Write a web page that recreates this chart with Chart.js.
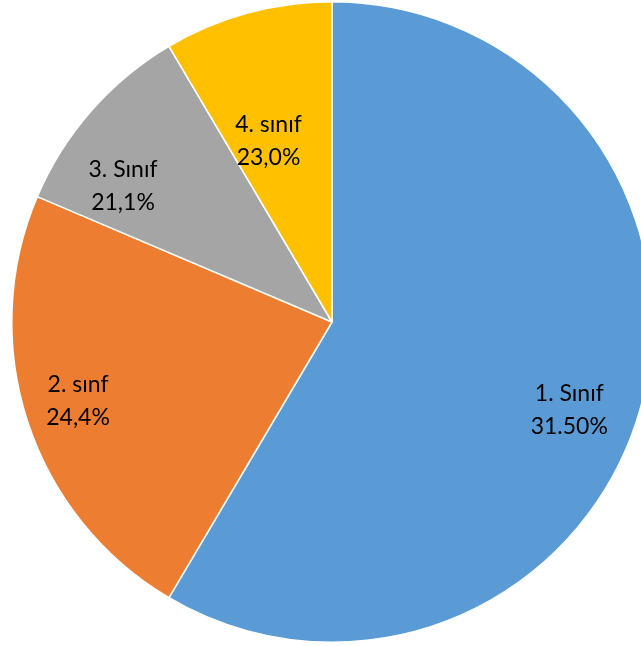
<!DOCTYPE html>
<html>
<head>
<meta charset="utf-8">
<script src="https://cdn.jsdelivr.net/npm/chart.js@4/dist/chart.umd.min.js"></script>
<style>
  html, body { margin: 0; padding: 0; background: #fff; overflow: hidden; }
  #wrap { position: absolute; left: 0; top: 1px; width: 664px; height: 642px; }
</style>
</head>
<body>
<div id="wrap"><canvas id="pie"></canvas></div>
<script>
// slice sizes (share of the circle, %)
const categories = ['1. Sınıf', '2. sınf', '3. Sınıf', '4. sınıf'];
const sliceValues = [58.5, 22.9, 10.1, 8.5];
// percentages printed on the slices (as written in the original)
const printedPercents = ['31.50%', '24,4%', '21,1%', '23,0%'];
const colors = ['#5B9BD5', '#ED7D31', '#A5A5A5', '#FFC000'];

// where each label sits: fraction of radius + small angle nudge (deg)
const labelRadius = [0.79, 0.83, 0.78, 0.60];
const labelNudge = [5, 1, -8, -4];

const sliceLabels = {
  id: 'sliceLabels',
  afterDatasetsDraw(chart) {
    const ctx = chart.ctx;
    const meta = chart.getDatasetMeta(0);
    ctx.save();
    ctx.font = '23px Lato';
    ctx.fillStyle = '#000';
    ctx.textAlign = 'center';
    ctx.textBaseline = 'middle';
    meta.data.forEach((arc, i) => {
      const p = arc.getProps(['x', 'y', 'startAngle', 'endAngle', 'outerRadius'], true);
      const mid = (p.startAngle + p.endAngle) / 2 + labelNudge[i] * Math.PI / 180;
      const r = p.outerRadius * labelRadius[i];
      const x = p.x + Math.cos(mid) * r;
      const y = p.y + Math.sin(mid) * r;
      ctx.fillText(categories[i], x, y - 16);
      ctx.fillText(printedPercents[i], x, y + 17);
    });
    ctx.restore();
  }
};

new Chart(document.getElementById('pie').getContext('2d'), {
  type: 'pie',
  data: {
    labels: categories,
    datasets: [{
      data: sliceValues,
      backgroundColor: colors,
      borderColor: '#fff',
      borderWidth: 1.5
    }]
  },
  options: {
    responsive: true,
    maintainAspectRatio: false,
    animation: false,
    layout: { padding: 0 },
    plugins: {
      legend: { display: false },
      tooltip: { enabled: false }
    }
  },
  plugins: [sliceLabels]
});
</script>
</body>
</html>
